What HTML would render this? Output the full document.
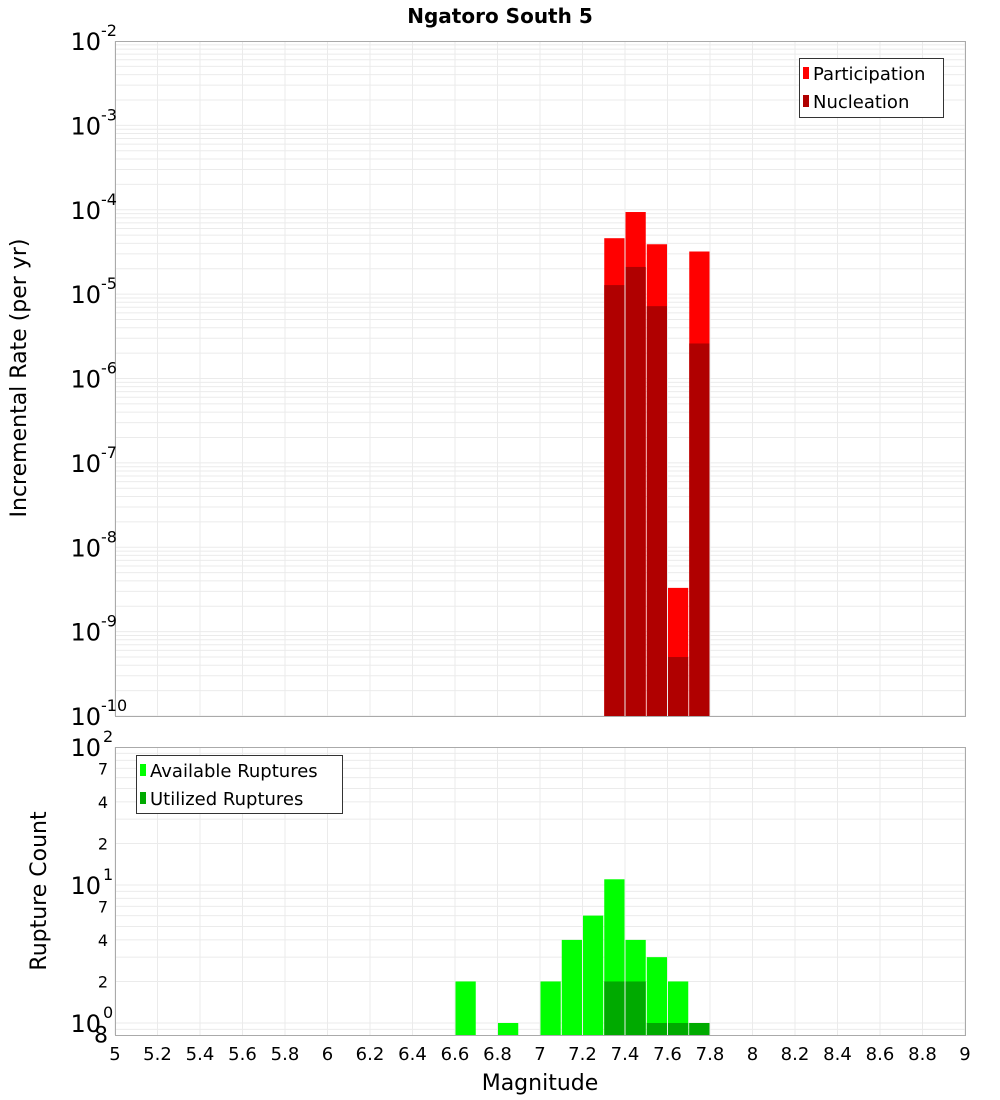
<!DOCTYPE html>
<html><head><meta charset="utf-8"><style>
body{margin:0;background:#fff;}
svg{display:block;font-family:"DejaVu Sans","Liberation Sans",sans-serif;}
</style></head><body>
<svg id="chart" width="1000" height="1100" xmlns="http://www.w3.org/2000/svg">
<text x="500" y="23" text-anchor="middle" font-size="20" font-weight="bold">Ngatoro South 5</text>
<g id="topPlot"></g>
<g id="botPlot"></g>
<text transform="translate(26,378) rotate(-90)" text-anchor="middle" font-size="22">Incremental Rate (per yr)</text>
<text transform="translate(46,891) rotate(-90)" text-anchor="middle" font-size="22">Rupture Count</text>
<text x="540" y="1090" text-anchor="middle" font-size="22">Magnitude</text>
</svg>
<script>
const mags = [7.35, 7.45, 7.55, 7.65, 7.75];
const participation = [4.6e-5, 9.4e-5, 3.9e-5, 3.3e-9, 3.2e-5];
const nucleation = [1.28e-5, 2.1e-5, 7.2e-6, 5.0e-10, 2.6e-6];
const countMags = [6.65, 6.85, 7.05, 7.15, 7.25, 7.35, 7.45, 7.55, 7.65, 7.75];
const available = [2, 1, 2, 4, 6, 11, 4, 3, 2, 1];
const utilMags = [7.35, 7.45, 7.55, 7.65, 7.75];
const utilized = [2, 2, 1, 1, 1];
const xTicks = ["5","5.2","5.4","5.6","5.8","6","6.2","6.4","6.6","6.8","7","7.2","7.4","7.6","7.8","8","8.2","8.4","8.6","8.8","9"];

const NS = "http://www.w3.org/2000/svg";
const L = 115, R = 965;
const xs = m => L + (m - 5) * (R - L) / 4;
const T1 = 41, B1 = 716;
const yTop = v => T1 + (-2 - Math.log10(v)) * (B1 - T1) / 8;
const T2 = 747, B2 = 1035;
const yBot = v => 885 - (Math.log10(v) - 1) * 138;
function mk(parent, tag, attrs, text){
  const e = document.createElementNS(NS, tag);
  for (const k in attrs) e.setAttribute(k, attrs[k]);
  if (text !== undefined) e.textContent = text;
  parent.appendChild(e); return e;
}
const topG = document.getElementById('topPlot'), botG = document.getElementById('botPlot');

for (let d = -10; d < -2; d++) for (let k = 1; k < 10; k++) {
  const y = yTop(k * Math.pow(10, d));
  const g = mk(topG, 'line', {x1:L, x2:R, y1:y, y2:y, stroke:'#ebebeb', 'stroke-width':1});
  
  
}
for (let i = 0; i < xTicks.length; i++) {
  const x = xs(parseFloat(xTicks[i]));
  const g = mk(topG, 'line', {x1:x, x2:x, y1:T1, y2:B1, stroke:'#ebebeb'});
  
  
  const g2 = mk(botG, 'line', {x1:x, x2:x, y1:T2, y2:B2, stroke:'#ebebeb'});
  
  
}
const bw = (R - L) / 40;
for (let i = 0; i < mags.length; i++) {
  const x = xs(mags[i] - 0.05);
  const p = mk(topG, 'rect', {x:x + 0.5, y:yTop(participation[i]), width:bw - 1, height:B1 - yTop(participation[i]), fill:'#ff0000'});
  
  
}
for (let i = 0; i < mags.length; i++) {
  const x = xs(mags[i] - 0.05);
  const n = mk(topG, 'rect', {x:x + 0.5, y:yTop(nucleation[i]), width:bw - 1, height:B1 - yTop(nucleation[i]), fill:'#b00000'});
  
  
}
mk(topG, 'rect', {x:L + 0.5, y:T1 + 0.5, width:R - L, height:B1 - T1, fill:'none', stroke:'#aaa'});
for (let d = -2; d >= -10; d--) {
  const y = yTop(Math.pow(10, d));
  const t = mk(topG, 'text', {x:101, y:y + 9, 'text-anchor':'end', 'font-size':24}, '10');
  
  
  mk(topG, 'text', {x:101, y:y - 5, 'font-size':16}, String(d));
}
const lg = mk(topG, 'g', {});


mk(lg, 'rect', {x:799.5, y:58.5, width:144, height:59, fill:'#fff', stroke:'#333'});
mk(lg, 'rect', {x:803, y:67, width:6, height:12, fill:'#ff0000'});
mk(lg, 'text', {x:813, y:80, 'font-size':18}, 'Participation');
mk(lg, 'rect', {x:803, y:95, width:6, height:12, fill:'#b00000'});
mk(lg, 'text', {x:813, y:108, 'font-size':18}, 'Nucleation');

[0.8,0.9,1,2,3,4,5,6,7,8,9,10,20,30,40,50,60,70,80,90].forEach(v => {
  const y = yBot(v);
  if (y < T2 || y > B2) return;
  const g = mk(botG, 'line', {x1:L, x2:R, y1:y, y2:y, stroke:'#ebebeb'});
  
  
});
for (let i = 0; i < countMags.length; i++) {
  const x = xs(countMags[i] - 0.05);
  const b = mk(botG, 'rect', {x:x + 0.5, y:yBot(available[i]), width:bw - 1, height:B2 - yBot(available[i]), fill:'#00ff00'});
  
  
}
for (let i = 0; i < utilMags.length; i++) {
  const x = xs(utilMags[i] - 0.05);
  const b = mk(botG, 'rect', {x:x + 0.5, y:yBot(utilized[i]), width:bw - 1, height:B2 - yBot(utilized[i]), fill:'#00aa00'});
  
  
}
mk(botG, 'rect', {x:L + 0.5, y:T2 + 0.5, width:R - L, height:B2 - T2, fill:'none', stroke:'#aaa'});
[[100,'2'],[10,'1'],[1,'0']].forEach(([v, e]) => {
  const y = yBot(v);
  const t = mk(botG, 'text', {x:101, y:y + 9, 'text-anchor':'end', 'font-size':24}, '10');
  
  
  mk(botG, 'text', {x:103, y:y - 5, 'font-size':16}, e);
});
[[70,'7'],[40,'4'],[20,'2'],[7,'7'],[4,'4'],[2,'2'],[0.8,'8']].forEach(([v, s]) => {
  const y = yBot(v);
  const t = mk(botG, 'text', {x:108, y:y + 6, 'text-anchor':'end', 'font-size':v === 0.8 ? 22 : 16}, s);
  
  
});
for (let i = 0; i < xTicks.length; i++) {
  const t = mk(botG, 'text', {x:xs(parseFloat(xTicks[i])), y:1060, 'text-anchor':'middle', 'font-size':18}, xTicks[i]);
  
  
}
const lg2 = mk(botG, 'g', {});


mk(lg2, 'rect', {x:136.5, y:755.5, width:206, height:58, fill:'#fff', stroke:'#333'});
mk(lg2, 'rect', {x:140, y:764, width:6, height:12, fill:'#00ff00'});
mk(lg2, 'text', {x:150, y:777, 'font-size':18}, 'Available Ruptures');
mk(lg2, 'rect', {x:140, y:792, width:6, height:12, fill:'#00aa00'});
mk(lg2, 'text', {x:150, y:805, 'font-size':18}, 'Utilized Ruptures');
</script>
</body></html>
